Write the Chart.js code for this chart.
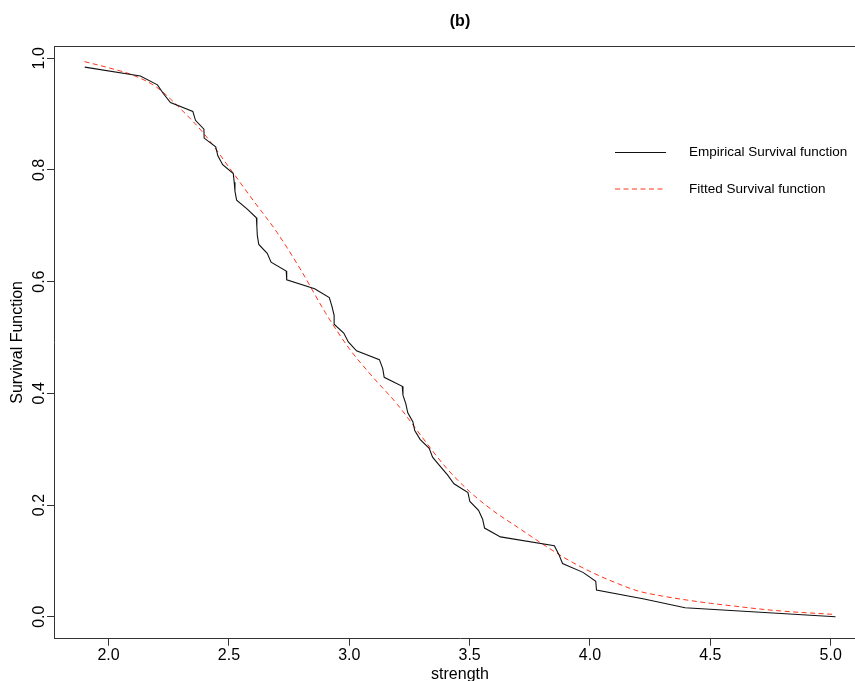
<!DOCTYPE html>
<html>
<head>
<meta charset="utf-8">
<script src="https://cdn.jsdelivr.net/npm/chart.js@4"></script>
<style>
html,body{margin:0;padding:0;overflow:hidden;background:#fff;width:855px;height:681px}
canvas{display:block}
</style>
</head>
<body>
<canvas id="c" width="870" height="700"></canvas>
<script>
// ---- data ----
const strength = [1.901, 2.132, 2.203, 2.228, 2.257, 2.350, 2.361, 2.396, 2.397, 2.445,
  2.454, 2.474, 2.518, 2.522, 2.525, 2.532, 2.575, 2.614, 2.616, 2.618,
  2.624, 2.659, 2.675, 2.738, 2.740, 2.856, 2.917, 2.928, 2.937, 2.937,
  2.977, 2.996, 3.030, 3.125, 3.139, 3.145, 3.220, 3.223, 3.235, 3.243,
  3.264, 3.272, 3.294, 3.332, 3.346, 3.377, 3.408, 3.435, 3.493, 3.501,
  3.537, 3.554, 3.562, 3.628, 3.852, 3.871, 3.886, 3.971, 4.024, 4.027,
  4.225, 4.395, 5.020];
const empiricalSurvival = [0.9841, 0.9683, 0.9524, 0.9365, 0.9206, 0.9048, 0.8889, 0.8730, 0.8571, 0.8413,
  0.8254, 0.8095, 0.7937, 0.7778, 0.7619, 0.7460, 0.7302, 0.7143, 0.6984, 0.6825,
  0.6667, 0.6508, 0.6349, 0.6190, 0.6032, 0.5873, 0.5714, 0.5556, 0.5397, 0.5238,
  0.5079, 0.4921, 0.4762, 0.4603, 0.4444, 0.4286, 0.4127, 0.3968, 0.3810, 0.3651,
  0.3492, 0.3333, 0.3175, 0.3016, 0.2857, 0.2698, 0.2540, 0.2381, 0.2222, 0.2063,
  0.1905, 0.1746, 0.1587, 0.1429, 0.1270, 0.1111, 0.0952, 0.0794, 0.0635, 0.0476,
  0.0317, 0.0159, 0.0000];
const fittedX = [1.90, 2.0, 2.1, 2.2, 2.3, 2.4, 2.5, 2.6, 2.7, 2.8, 2.9, 3.0, 3.1, 3.2, 3.3, 3.4,
  3.5, 3.6, 3.7, 3.8, 3.9, 4.0, 4.1, 4.2, 4.3, 4.4, 4.5, 4.6, 4.7, 4.8, 4.9, 5.02];
const fittedSurvival = [0.994, 0.983, 0.970, 0.948, 0.909, 0.863, 0.805, 0.746, 0.688, 0.620, 0.545, 0.480,
  0.428, 0.380, 0.323, 0.268, 0.224, 0.189, 0.160, 0.131, 0.104, 0.081, 0.062, 0.046,
  0.037, 0.030, 0.024, 0.019, 0.014, 0.010, 0.007, 0.004];
const xTicks = [2.0, 2.5, 3.0, 3.5, 4.0, 4.5, 5.0];
const yTicks = [0.0, 0.2, 0.4, 0.6, 0.8, 1.0];
const seriesLabels = ['Empirical Survival function', 'Fitted Survival function'];
const chartTitle = '(b)';
const xTitle = 'strength';
const yTitle = 'Survival Function';

// ---- styling ----
const FONT = "'Liberation Sans', Arial, sans-serif";
const AXIS = '#333333';

const frameTop = {
  id: 'frameTop',
  afterDraw(chart) {
    const {ctx, chartArea} = chart;
    ctx.save();
    ctx.strokeStyle = AXIS;
    ctx.lineWidth = 1;
    const y = Math.round(chartArea.top) + 0.5;
    ctx.beginPath();
    ctx.moveTo(chartArea.left, y);
    ctx.lineTo(chartArea.right, y);
    ctx.stroke();
    ctx.restore();
  }
};

const boxLegend = {
  id: 'boxLegend',
  afterDraw(chart) {
    const {ctx} = chart;
    const rows = [152.5, 189];
    ctx.save();
    ctx.font = "13.5px " + FONT;
    ctx.textBaseline = 'middle';
    ctx.textAlign = 'left';
    chart.data.datasets.forEach((ds, i) => {
      const y = rows[i];
      ctx.strokeStyle = ds.borderColor;
      ctx.lineWidth = 1;
      ctx.setLineDash(ds.borderDash || []);
      ctx.beginPath();
      ctx.moveTo(615, y);
      ctx.lineTo(666, y);
      ctx.stroke();
      ctx.setLineDash([]);
      ctx.fillStyle = '#000';
      ctx.fillText(ds.label, 689, y);
    });
    ctx.restore();
  }
};

new Chart(document.getElementById('c'), {
  type: 'line',
  data: {
    datasets: [
      {
        label: seriesLabels[0],
        data: strength.map((x, i) => ({x: x, y: empiricalSurvival[i]})),
        borderColor: '#111111',
        borderWidth: 1.1,
        pointRadius: 0,
        tension: 0,
        fill: false
      },
      {
        label: seriesLabels[1],
        data: fittedX.map((x, i) => ({x: x, y: fittedSurvival[i]})),
        borderColor: '#ff3319',
        borderWidth: 1,
        borderDash: [5, 3.5],
        pointRadius: 0,
        cubicInterpolationMode: 'monotone',
        fill: false
      }
    ]
  },
  options: {
    responsive: false,
    animation: false,
    devicePixelRatio: 1,
    layout: {padding: {left: 0, right: 4, top: 0, bottom: 0}},
    plugins: {
      legend: {display: false},
      tooltip: {enabled: false},
      title: {
        display: true,
        fullSize: false,
        text: chartTitle,
        color: '#000',
        font: {family: FONT, size: 16, weight: 'bold', lineHeight: 1.2},
        padding: {top: 12, bottom: 14.8}
      }
    },
    scales: {
      x: {
        type: 'linear',
        min: 1.7732,
        max: 5.1467,
        afterBuildTicks: s => { s.ticks = xTicks.map(v => ({value: v})); },
        afterFit: s => { s.height = 61.3; },
        ticks: {
          autoSkip: false,
          maxRotation: 0, minRotation: 0,
          padding: 0,
          color: '#000',
          font: {family: FONT, size: 16},
          callback: v => Number(v).toFixed(1)
        },
        grid: {display: true, drawOnChartArea: false, drawTicks: true, tickLength: 7, tickColor: AXIS, tickWidth: 1},
        border: {display: true, color: AXIS, width: 1},
        title: {display: true, text: xTitle, color: '#000', font: {family: FONT, size: 16, lineHeight: 1.2}, padding: {top: 0, bottom: 15.4}}
      },
      y: {
        type: 'linear',
        min: -0.0394,
        max: 1.022,
        afterBuildTicks: s => { s.ticks = yTicks.map(v => ({value: v})); },
        afterFit: s => { s.width = 54; },
        ticks: {
          autoSkip: false,
          minRotation: 90, maxRotation: 90,
          crossAlign: 'center',
          padding: -4,
          color: '#000',
          font: {family: FONT, size: 16},
          callback: v => Number(v).toFixed(1)
        },
        grid: {display: true, drawOnChartArea: false, drawTicks: true, tickLength: 7, tickColor: AXIS, tickWidth: 1},
        border: {display: true, color: AXIS, width: 1},
        title: {display: true, text: yTitle, color: '#000', font: {family: FONT, size: 16, lineHeight: 1.2}, padding: {top: 8.4, bottom: 0}}
      }
    }
  },
  plugins: [frameTop, boxLegend]
});
</script>
</body>
</html>
